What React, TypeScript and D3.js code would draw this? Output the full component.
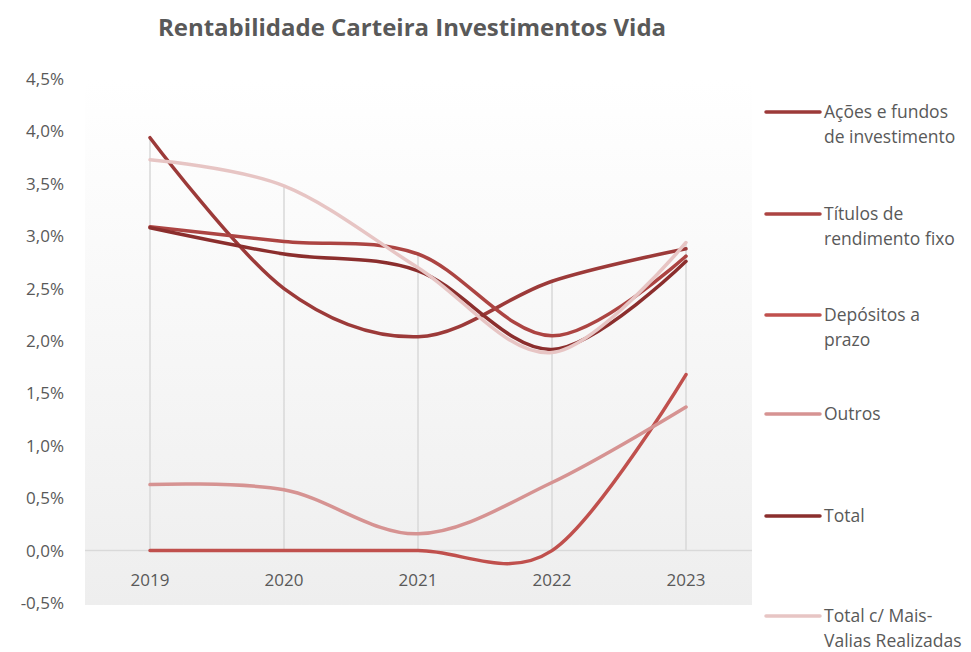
import * as d3 from "d3";

const years = ["2019", "2020", "2021", "2022", "2023"];
const yTicks = [-0.5, 0, 0.5, 1, 1.5, 2, 2.5, 3, 3.5, 4, 4.5];

const acoes = [3.94, 2.5, 2.04, 2.57, 2.88];
const titulos = [3.09, 2.95, 2.83, 2.05, 2.81];
const depositos = [0, 0, 0, 0, 1.68];
const outros = [0.63, 0.58, 0.16, 0.65, 1.37];
const total = [3.08, 2.83, 2.67, 1.92, 2.76];
const totalMV = [3.73, 3.48, 2.7, 1.89, 2.94];

const seriesNames = [
  ["Ações e fundos", "de investimento"],
  ["Títulos de", "rendimento fixo"],
  ["Depósitos a", "prazo"],
  ["Outros"],
  ["Total"],
  ["Total c/ Mais-", "Valias Realizadas"],
];
const seriesValues = [acoes, titulos, depositos, outros, total, totalMV];
const seriesColors = ["#9c3a39", "#ac4442", "#c0504d", "#d69392", "#8b2e2d", "#e7c5c4"];
const legendY = [112, 214, 315, 414, 516, 616];

const W = 971;
const H = 652;
const FONT = "'Open Sans', Lato, sans-serif";
const TEXT = "#595959";

export default function App() {
  const x = d3.scalePoint<string>().domain(years).range([150, 686]);
  const y = d3.scaleLinear().domain([-0.5, 4.5]).range([603, 79]);

  const line = d3
    .line<number>()
    .x((_, i) => x(years[i])!)
    .y((d) => y(d))
    .curve(d3.curveCardinal.tension(0));

  const maxPerYear = years.map((_, i) => d3.max(seriesValues, (s) => s[i])!);

  return (
    <svg
      width={W}
      height={H}
      style={{ position: "absolute", left: 0, top: 0, background: "#fff" }}
    >
      <defs>
        <linearGradient id="bg" x1="0" y1="0" x2="0" y2="1">
          <stop offset="0%" stopColor="#ffffff" />
          <stop offset="25%" stopColor="#fbfbfb" />
          <stop offset="100%" stopColor="#eeeeee" />
        </linearGradient>
      </defs>
      <text
        x={412}
        y={36}
        textAnchor="middle"
        fontFamily={FONT}
        fontWeight="bold"
        fontSize={24}
        fill={TEXT}
      >
        Rentabilidade Carteira Investimentos Vida
      </text>

      <rect x={85} y={80} width={667} height={525} fill="url(#bg)" />

      {/* drop lines */}
      {years.map((yr, i) => (
        <line
          key={yr}
          x1={x(yr)}
          x2={x(yr)}
          y1={y(maxPerYear[i])}
          y2={y(0)}
          stroke="#d9d9d9"
          strokeWidth={1.5}
        />
      ))}
      <line x1={85} x2={752} y1={y(0)} y2={y(0)} stroke="#d9d9d9" strokeWidth={1.5} />

      {/* y axis labels */}
      {yTicks.map((t) => (
        <text
          key={t}
          x={64}
          y={y(t)}
          dy="0.35em"
          textAnchor="end"
          fontFamily={FONT}
          fontSize={17}
          fill={TEXT}
        >
          {t.toFixed(1).replace(".", ",") + "%"}
        </text>
      ))}

      {/* x axis labels */}
      {years.map((yr) => (
        <text
          key={yr}
          x={x(yr)}
          y={580}
          dy="0.35em"
          textAnchor="middle"
          fontFamily={FONT}
          fontSize={17}
          fill={TEXT}
        >
          {yr}
        </text>
      ))}

      {/* series */}
      {seriesValues.map((vals, i) => (
        <path
          key={i}
          d={line(vals)!}
          fill="none"
          stroke={seriesColors[i]}
          strokeWidth={3.5}
          strokeLinecap="round"
        />
      ))}

      {/* legend */}
      {seriesNames.map((lines, i) => (
        <g key={i} transform={`translate(0,${legendY[i]})`}>
          <line
            x1={766}
            x2={820}
            y1={0}
            y2={0}
            stroke={seriesColors[i]}
            strokeWidth={3.5}
            strokeLinecap="round"
          />
          {lines.map((l, j) => (
            <text
              key={j}
              x={824}
              y={j * 25}
              dy="0.35em"
              fontFamily={FONT}
              fontSize={17.5}
              fill={TEXT}
            >
              {l}
            </text>
          ))}
        </g>
      ))}
    </svg>
  );
}
